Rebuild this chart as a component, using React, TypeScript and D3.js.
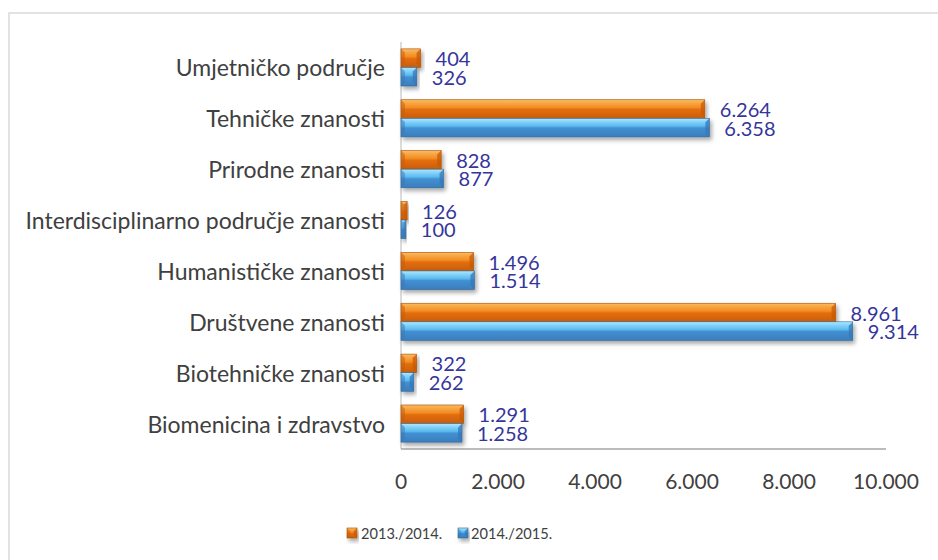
import React from "react";
import * as d3 from "d3";

const categories = [
  "Umjetničko područje",
  "Tehničke znanosti",
  "Prirodne znanosti",
  "Interdisciplinarno područje znanosti",
  "Humanističke znanosti",
  "Društvene znanosti",
  "Biotehničke znanosti",
  "Biomenicina i zdravstvo",
];
const seriesNames = ["2013./2014.", "2014./2015."];
const values2013 = [404, 6264, 828, 126, 1496, 8961, 322, 1291];
const values2014 = [326, 6358, 877, 100, 1514, 9314, 262, 1258];
const xTicks = [0, 2000, 4000, 6000, 8000, 10000];

const W = 938;
const H = 560;
const locale = d3.formatLocale({ decimal: ",", thousands: ".", grouping: [3], currency: ["", ""] });
const fmt = locale.format(",d");

const x = d3.scaleLinear().domain([0, 10000]).range([401, 886]);
const y = d3.scaleBand<string>().domain(categories).range([42, 449]).paddingInner(0.27).paddingOuter(0.135);
const ySub = d3.scaleBand<string>().domain(seriesNames).range([0, y.bandwidth()]);

const seriesData = [values2013, values2014];
const gradIds = ["gOrange", "gBlue"];
const edgeColors = ["#a54d08", "#2f6596"];
const bevelColors = ["#c85a06", "#3577b5"];

function Bar({ x0, x1, yy, h, s }: { x0: number; x1: number; yy: number; h: number; s: number }) {
  const b = Math.min(4, (x1 - x0) / 2, h / 3);
  return (
    <g filter="url(#shadow)">
      <rect x={x0} y={yy} width={x1 - x0} height={h} fill={`url(#${gradIds[s]})`} stroke={edgeColors[s]} strokeWidth={0.6} />
      <polygon
        points={`${x1 - b},${yy + b} ${x1},${yy} ${x1},${yy + h} ${x1 - b},${yy + h - b}`}
        fill={bevelColors[s]}
        opacity={0.75}
      />
      <polygon
        points={`${x0},${yy} ${x0 + b},${yy + b} ${x0 + b},${yy + h - b} ${x0},${yy + h}`}
        fill={bevelColors[s]}
        opacity={0.5}
      />
    </g>
  );
}

function LegendMarker({ mx, my, s }: { mx: number; my: number; s: number }) {
  return <Bar x0={mx} x1={mx + 10} yy={my} h={10} s={s} />;
}

export default function App() {
  const fontFamily = "Lato, 'Open Sans', sans-serif";
  return (
    <svg
      width={W}
      height={H}
      style={{ position: "absolute", left: 0, top: 0, background: "#fff" }}
      fontFamily={fontFamily}
    >
      <defs>
        <linearGradient id="gOrange" x1="0" y1="0" x2="0" y2="1">
          <stop offset="0" stopColor="#fbbc66" />
          <stop offset="0.18" stopColor="#f8a641" />
          <stop offset="0.42" stopColor="#f28c24" />
          <stop offset="0.52" stopColor="#e46e0c" />
          <stop offset="1" stopColor="#c95d07" />
        </linearGradient>
        <linearGradient id="gBlue" x1="0" y1="0" x2="0" y2="1">
          <stop offset="0" stopColor="#b0e8ff" />
          <stop offset="0.18" stopColor="#84d3fa" />
          <stop offset="0.42" stopColor="#5cb9ee" />
          <stop offset="0.52" stopColor="#4290d2" />
          <stop offset="1" stopColor="#3a7dbd" />
        </linearGradient>
        <filter id="shadow" x="-10%" y="-30%" width="130%" height="190%">
          <feDropShadow dx="2" dy="3" stdDeviation="2" floodColor="#000" floodOpacity="0.35" />
        </filter>
      </defs>

      <rect x={9} y={13} width={960} height={600} fill="#fff" stroke="#d9d9d9" strokeWidth={1.5} />

      {/* axes */}
      <line x1={x(0)} x2={x(0)} y1={42} y2={449} stroke="#d0d0d0" strokeWidth={1.5} />
      <line x1={x(0)} x2={x(10000)} y1={449} y2={449} stroke="#a6a6a6" strokeWidth={1.5} />

      {/* category labels */}
      {categories.map((c) => (
        <text
          key={c}
          x={385}
          y={(y(c) ?? 0) + y.bandwidth() / 2}
          textAnchor="end"
          dominantBaseline="central"
          fontSize={23}
          fill="#404040"
        >
          {c}
        </text>
      ))}

      {/* bars */}
      {seriesData.map((vals, s) =>
        vals.map((v, i) => {
          const yy = (y(categories[i]) ?? 0) + (ySub(seriesNames[s]) ?? 0);
          return <Bar key={`${s}-${i}`} x0={x(0)} x1={x(v)} yy={yy} h={ySub.bandwidth()} s={s} />;
        })
      )}

      {/* value labels */}
      {seriesData.map((vals, s) =>
        vals.map((v, i) => {
          const yy = (y(categories[i]) ?? 0) + (ySub(seriesNames[s]) ?? 0) + ySub.bandwidth() / 2;
          return (
            <text
              key={`l${s}-${i}`}
              x={x(v) + 15}
              y={yy}
              dominantBaseline="central"
              fontSize={20}
              fill="#35359b"
            >
              {fmt(v)}
            </text>
          );
        })
      )}

      {/* x tick labels */}
      {xTicks.map((t) => (
        <text key={t} x={x(t)} y={480} textAnchor="middle" dominantBaseline="central" fontSize={21} fill="#404040">
          {fmt(t)}
        </text>
      ))}

      {/* legend */}
      <LegendMarker mx={347} my={528} s={0} />
      <text x={361} y={533} dominantBaseline="central" fontSize={14.6} fill="#404040">
        {seriesNames[0]}
      </text>
      <LegendMarker mx={458} my={528} s={1} />
      <text x={471} y={533} dominantBaseline="central" fontSize={14.6} fill="#404040">
        {seriesNames[1]}
      </text>
    </svg>
  );
}
